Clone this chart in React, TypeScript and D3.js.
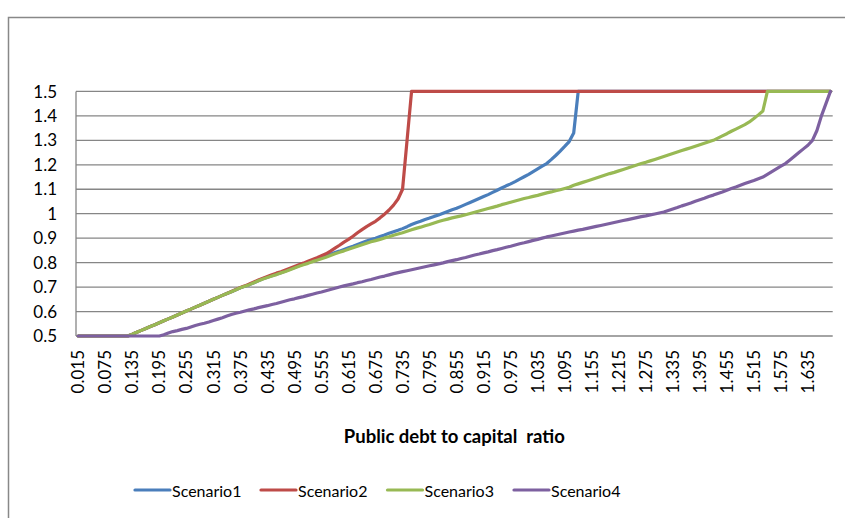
import React from "react";
import * as d3 from "d3";

const categories: string[] = [
  "0.015","0.025","0.035","0.045","0.055","0.065","0.075","0.085","0.095","0.105",
  "0.115","0.125","0.135","0.145","0.155","0.165","0.175","0.185","0.195","0.205",
  "0.215","0.225","0.235","0.245","0.255","0.265","0.275","0.285","0.295","0.305",
  "0.315","0.325","0.335","0.345","0.355","0.365","0.375","0.385","0.395","0.405",
  "0.415","0.425","0.435","0.445","0.455","0.465","0.475","0.485","0.495","0.505",
  "0.515","0.525","0.535","0.545","0.555","0.565","0.575","0.585","0.595","0.605",
  "0.615","0.625","0.635","0.645","0.655","0.665","0.675","0.685","0.695","0.705",
  "0.715","0.725","0.735","0.745","0.755","0.765","0.775","0.785","0.795","0.805",
  "0.815","0.825","0.835","0.845","0.855","0.865","0.875","0.885","0.895","0.905",
  "0.915","0.925","0.935","0.945","0.955","0.965","0.975","0.985","0.995","1.005",
  "1.015","1.025","1.035","1.045","1.055","1.065","1.075","1.085","1.095","1.105",
  "1.115","1.125","1.135","1.145","1.155","1.165","1.175","1.185","1.195","1.205",
  "1.215","1.225","1.235","1.245","1.255","1.265","1.275","1.285","1.295","1.305",
  "1.315","1.325","1.335","1.345","1.355","1.365","1.375","1.385","1.395","1.405",
  "1.415","1.425","1.435","1.445","1.455","1.465","1.475","1.485","1.495","1.505",
  "1.515","1.525","1.535","1.545","1.555","1.565","1.575","1.585","1.595","1.605",
  "1.615","1.625","1.635","1.645","1.655","1.665","1.675","1.685"
];

const xTickLabels: string[] = [
  "0.015","0.075","0.135","0.195","0.255","0.315","0.375","0.435","0.495","0.555",
  "0.615","0.675","0.735","0.795","0.855","0.915","0.975","1.035","1.095","1.155",
  "1.215","1.275","1.335","1.395","1.455","1.515","1.575","1.635"
];

const yTicks: number[] = [0.5, 0.6, 0.7, 0.8, 0.9, 1, 1.1, 1.2, 1.3, 1.4, 1.5];

const seriesNames: string[] = ["Scenario1", "Scenario2", "Scenario3", "Scenario4"];
const seriesColors: string[] = ["#4A7EBB", "#BE4B48", "#98B954", "#7D60A0"];

const scenario1: number[] = [
  0.5,0.5,0.5,0.5,0.5,0.5,0.5,0.5,0.5,0.5,
  0.5,0.5,0.507,0.515,0.523,0.531,0.539,0.546,0.554,0.562,
  0.57,0.578,0.586,0.594,0.602,0.61,0.618,0.626,0.634,0.642,
  0.65,0.658,0.666,0.674,0.681,0.689,0.697,0.703,0.71,0.718,
  0.726,0.734,0.74,0.746,0.753,0.759,0.766,0.773,0.78,0.787,
  0.794,0.8,0.807,0.814,0.82,0.827,0.834,0.841,0.847,0.854,
  0.861,0.867,0.874,0.881,0.888,0.894,0.9,0.907,0.913,0.92,
  0.926,0.932,0.939,0.947,0.956,0.963,0.969,0.976,0.982,0.989,
  0.995,1.002,1.009,1.016,1.022,1.03,1.038,1.046,1.054,1.062,
  1.07,1.078,1.087,1.096,1.105,1.114,1.122,1.131,1.141,1.151,
  1.161,1.172,1.183,1.194,1.205,1.221,1.238,1.256,1.275,1.295,
  1.33,1.5,1.5,1.5,1.5,1.5,1.5,1.5,1.5,1.5,
  1.5,1.5,1.5,1.5,1.5,1.5,1.5,1.5,1.5,1.5,
  1.5,1.5,1.5,1.5,1.5,1.5,1.5,1.5,1.5,1.5,
  1.5,1.5,1.5,1.5,1.5,1.5,1.5,1.5,1.5,1.5,
  1.5,1.5,1.5,1.5,1.5,1.5,1.5,1.5,1.5,1.5,
  1.5,1.5,1.5,1.5,1.5,1.5,1.5,1.5
];

const scenario2: number[] = [
  0.5,0.5,0.5,0.5,0.5,0.5,0.5,0.5,0.5,0.5,
  0.5,0.5,0.507,0.515,0.523,0.531,0.539,0.546,0.554,0.562,
  0.57,0.578,0.586,0.594,0.602,0.61,0.618,0.626,0.634,0.642,
  0.65,0.658,0.666,0.674,0.682,0.69,0.698,0.705,0.713,0.721,
  0.729,0.736,0.743,0.75,0.757,0.763,0.77,0.777,0.784,0.791,
  0.798,0.806,0.813,0.82,0.828,0.836,0.847,0.859,0.871,0.884,
  0.895,0.908,0.922,0.935,0.947,0.958,0.969,0.983,0.998,1.015,
  1.035,1.06,1.1,1.3,1.5,1.5,1.5,1.5,1.5,1.5,
  1.5,1.5,1.5,1.5,1.5,1.5,1.5,1.5,1.5,1.5,
  1.5,1.5,1.5,1.5,1.5,1.5,1.5,1.5,1.5,1.5,
  1.5,1.5,1.5,1.5,1.5,1.5,1.5,1.5,1.5,1.5,
  1.5,1.5,1.5,1.5,1.5,1.5,1.5,1.5,1.5,1.5,
  1.5,1.5,1.5,1.5,1.5,1.5,1.5,1.5,1.5,1.5,
  1.5,1.5,1.5,1.5,1.5,1.5,1.5,1.5,1.5,1.5,
  1.5,1.5,1.5,1.5,1.5,1.5,1.5,1.5,1.5,1.5,
  1.5,1.5,1.5,1.5,1.5,1.5,1.5,1.5,1.5,1.5,
  1.5,1.5,1.5,1.5,1.5,1.5,1.5,1.5
];

const scenario3: number[] = [
  0.5,0.5,0.5,0.5,0.5,0.5,0.5,0.5,0.5,0.5,
  0.5,0.5,0.507,0.515,0.523,0.531,0.539,0.546,0.554,0.562,
  0.57,0.578,0.586,0.594,0.602,0.61,0.618,0.626,0.634,0.642,
  0.65,0.658,0.666,0.674,0.681,0.689,0.697,0.703,0.71,0.718,
  0.726,0.733,0.739,0.745,0.751,0.758,0.764,0.771,0.778,0.785,
  0.791,0.797,0.804,0.81,0.816,0.822,0.829,0.836,0.842,0.848,
  0.855,0.861,0.867,0.873,0.879,0.885,0.89,0.895,0.901,0.906,
  0.912,0.917,0.922,0.928,0.934,0.94,0.945,0.951,0.956,0.962,
  0.968,0.973,0.978,0.983,0.987,0.991,0.996,1.001,1.006,1.011,
  1.016,1.021,1.026,1.031,1.037,1.042,1.047,1.052,1.057,1.062,
  1.066,1.071,1.075,1.08,1.085,1.089,1.094,1.098,1.103,1.108,
  1.116,1.122,1.128,1.134,1.14,1.146,1.152,1.158,1.164,1.169,
  1.175,1.181,1.187,1.193,1.199,1.205,1.21,1.216,1.222,1.228,
  1.234,1.24,1.246,1.252,1.258,1.264,1.27,1.276,1.282,1.288,
  1.294,1.3,1.309,1.318,1.327,1.337,1.346,1.355,1.364,1.375,
  1.389,1.404,1.42,1.5,1.5,1.5,1.5,1.5,1.5,1.5,
  1.5,1.5,1.5,1.5,1.5,1.5,1.5,1.5
];

const scenario4: number[] = [
  0.5,0.5,0.5,0.5,0.5,0.5,0.5,0.5,0.5,0.5,
  0.5,0.5,0.5,0.5,0.5,0.5,0.5,0.5,0.5,0.505,
  0.512,0.518,0.522,0.527,0.531,0.537,0.543,0.548,0.552,0.557,
  0.563,0.569,0.575,0.582,0.588,0.593,0.597,0.602,0.607,0.611,
  0.616,0.62,0.624,0.629,0.633,0.638,0.643,0.648,0.652,0.657,
  0.661,0.666,0.671,0.676,0.68,0.685,0.69,0.695,0.7,0.705,
  0.709,0.713,0.718,0.722,0.727,0.731,0.736,0.741,0.745,0.75,
  0.755,0.759,0.763,0.767,0.771,0.775,0.779,0.783,0.787,0.791,
  0.795,0.799,0.804,0.808,0.812,0.817,0.821,0.826,0.831,0.835,
  0.84,0.844,0.849,0.853,0.858,0.863,0.867,0.872,0.877,0.881,
  0.886,0.891,0.895,0.9,0.905,0.909,0.913,0.917,0.921,0.925,
  0.929,0.933,0.936,0.94,0.944,0.948,0.952,0.956,0.96,0.964,
  0.968,0.972,0.976,0.98,0.984,0.988,0.991,0.995,0.999,1.003,
  1.007,1.013,1.019,1.025,1.032,1.038,1.044,1.051,1.057,1.063,
  1.07,1.076,1.083,1.089,1.096,1.103,1.109,1.116,1.123,1.13,
  1.136,1.143,1.15,1.161,1.172,1.183,1.194,1.205,1.22,1.235,
  1.25,1.265,1.28,1.3,1.34,1.4,1.45,1.5
];

const seriesData: number[][] = [scenario1, scenario2, scenario3, scenario4];

const W = 845;
const H = 518;
const M = { left: 76, right: 832.7, top: 91.4, bottom: 336 };
const FONT = "Lato, 'Open Sans', sans-serif";

export default function App() {
  const x = d3.scalePoint<string>().domain(categories).range([M.left, M.right]).padding(0.5);
  const y = d3.scaleLinear().domain([0.5, 1.5]).range([M.bottom, M.top]);
  const line = d3
    .line<number>()
    .x((_, i) => x(categories[i]) as number)
    .y((d) => y(d));

  const legendX = [135, 261, 387.5, 514];

  return (
    <svg width={W} height={H} style={{ position: "absolute", left: 0, top: 0, background: "#fff" }}>
      <rect x={8.5} y={17.5} width={900} height={600} fill="#fff" stroke="#888" strokeWidth={1.5} />
      {yTicks.map((t) => (
        <line key={"g" + t} x1={M.left} x2={M.right} y1={y(t)} y2={y(t)} stroke="#868686" strokeWidth={1.3} />
      ))}
      <line x1={M.left} x2={M.left} y1={M.top} y2={M.bottom} stroke="#868686" strokeWidth={1.3} />
      {yTicks.map((t) => (
        <text key={"y" + t} x={57} y={y(t)} dy="0.36em" textAnchor="end" fontFamily={FONT} fontSize={17} fill="#000">
          {d3.format("")(t)}
        </text>
      ))}
      {xTickLabels.map((c) => (
        <text
          key={"x" + c}
          transform={`translate(${x(c)},${350}) rotate(-90)`}
          dy="0.36em"
          textAnchor="end"
          fontFamily={FONT}
          fontSize={17}
          fill="#000"
        >
          {c}
        </text>
      ))}
      {seriesData.map((s, k) => (
        <path key={"s" + k} d={line(s) as string} fill="none" stroke={seriesColors[k]} strokeWidth={3.2} strokeLinejoin="round" strokeLinecap="round" />
      ))}
      <text x={(M.left + M.right) / 2} y={443} textAnchor="middle" fontFamily={FONT} fontSize={18.5} fontWeight="bold" fill="#000" style={{ whiteSpace: "pre" }}>
        {"Public debt to capital  ratio"}
      </text>
      {seriesNames.map((n, k) => (
        <g key={"l" + n}>
          <line x1={legendX[k]} x2={legendX[k] + 35} y1={490} y2={490} stroke={seriesColors[k]} strokeWidth={3.2} strokeLinecap="round" />
          <text x={legendX[k] + 37} y={491} dy="0.36em" fontFamily={FONT} fontSize={16} fill="#000">
            {n}
          </text>
        </g>
      ))}
    </svg>
  );
}
